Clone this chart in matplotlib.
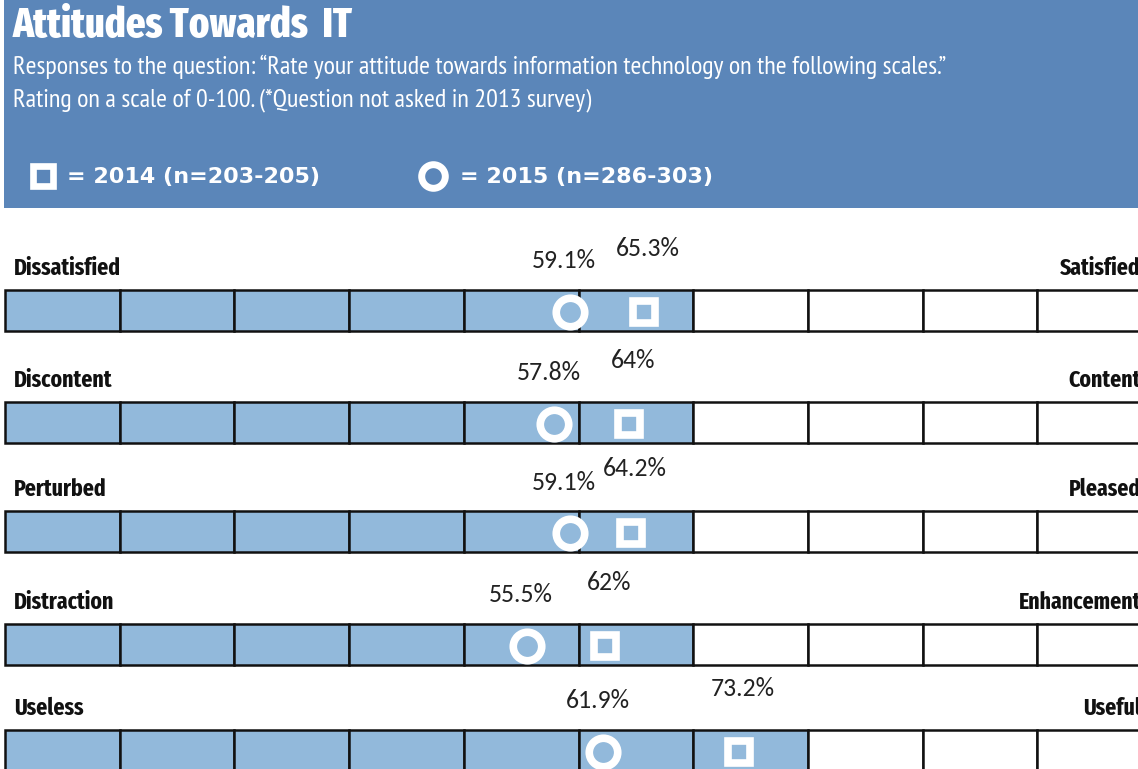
import matplotlib
matplotlib.use("Agg")
import matplotlib.pyplot as plt
from matplotlib.patches import Rectangle

# ---------------- data ----------------
left_labels = ["Dissatisfied", "Discontent", "Perturbed", "Distraction", "Useless"]
right_labels = ["Satisfied", "Content", "Pleased", "Enhancement", "Useful"]
vals_2015 = [59.1, 57.8, 59.1, 55.5, 61.9]   # circle
vals_2014 = [65.3, 64.0, 64.2, 62.0, 73.2]   # square
filled_cells = [6, 6, 6, 6, 7]
n_cells = 10
title = "Attitudes Towards  IT"
subtitle1 = "Responses to the question: \u201cRate your attitude towards information technology on the following scales.\u201d"
subtitle2 = "Rating on a scale of 0-100. (*Question not asked in 2013 survey)"
legend_2014 = "= 2014 (n=203-205)"
legend_2015 = "= 2015 (n=286-303)"

# ---------------- style ----------------
W, H = 1138, 769
HEADER = "#5B86B9"
FILL = "#92B9DB"
TITLE_F = ["Fira Sans Extra Condensed", "DejaVu Sans"]
SUB_F = ["PT Sans Narrow", "DejaVu Sans"]
LAB_F = ["Fira Sans Extra Condensed", "DejaVu Sans"]
PCT_F = ["Carlito", "DejaVu Sans"]
LEG_F = ["DejaVu Sans"]

fig = plt.figure(figsize=(W / 100, H / 100), dpi=100)
ax = fig.add_axes([0, 0, 1, 1])

A, B = -139.5, 12.0          # px = A + B*value (layout of the value scale)
def v(px):
    return (px - A) / B
ax.set_xlim(v(0), v(W))
ax.set_ylim(H, 0)
ax.axis("off")

# header
ax.add_patch(Rectangle((v(4), 0), v(W) - v(4), 208, facecolor=HEADER, edgecolor="none", zorder=0))
ax.text(v(13), 26, title, color="white", fontsize=30, fontweight="heavy", family=TITLE_F, va="center", ha="left")
ax.text(v(13), 67, subtitle1, color="white", fontsize=18.8, family=SUB_F, va="center", ha="left")
ax.text(v(13), 100, subtitle2, color="white", fontsize=18.8, family=SUB_F, va="center", ha="left")

ax.plot([v(43)], [176], marker="s", ms=15, mfc=HEADER, mec="white", mew=4.8, zorder=5)
ax.text(v(67), 177, legend_2014, color="white", fontsize=16, fontweight="bold", family=LEG_F, va="center", ha="left")
ax.plot([v(433)], [176], marker="o", ms=17, mfc=HEADER, mec="white", mew=5, zorder=5)
ax.text(v(460), 177, legend_2015, color="white", fontsize=16, fontweight="bold", family=LEG_F, va="center", ha="left")

# rows
row_tops = [290, 402, 511, 624, 730]
bar_h = 41
cell_px = 114.7
x_start = 5
for i in range(len(left_labels)):
    top = row_tops[i]
    for c in range(n_cells):
        x0 = v(x_start + c * cell_px)
        x1 = v(x_start + (c + 1) * cell_px)
        fc = FILL if c < filled_cells[i] else "white"
        ax.add_patch(Rectangle((x0, top), x1 - x0, bar_h, facecolor=fc, edgecolor="#111111", lw=1.8, zorder=2))
    ax.text(v(14), top - 22, left_labels[i], fontsize=17, fontweight="bold", family=LAB_F, va="center", ha="left", color="#111111")
    ax.text(v(W + 3), top - 22, right_labels[i], fontsize=17, fontweight="bold", family=LAB_F, va="center", ha="right", color="#111111")
    cy = top + bar_h / 2 + 1.5
    ax.plot([vals_2015[i]], [cy], marker="o", ms=20.5, mfc=FILL, mec="white", mew=5.5, zorder=5, ls="none")
    ax.plot([vals_2014[i]], [cy], marker="s", ms=16, mfc=FILL, mec="white", mew=5.5, zorder=5, ls="none")
    ax.annotate(f"{vals_2015[i]:g}%", (vals_2015[i], top - 29), xytext=(-4, 0), textcoords="offset points",
                fontsize=18.5, family=PCT_F, ha="center", va="center", color="#222222")
    ax.annotate(f"{vals_2014[i]:g}%", (vals_2014[i], top - 42), xytext=(3, 0), textcoords="offset points",
                fontsize=18.5, family=PCT_F, ha="center", va="center", color="#222222")

fig.savefig("out.png", dpi=100)
